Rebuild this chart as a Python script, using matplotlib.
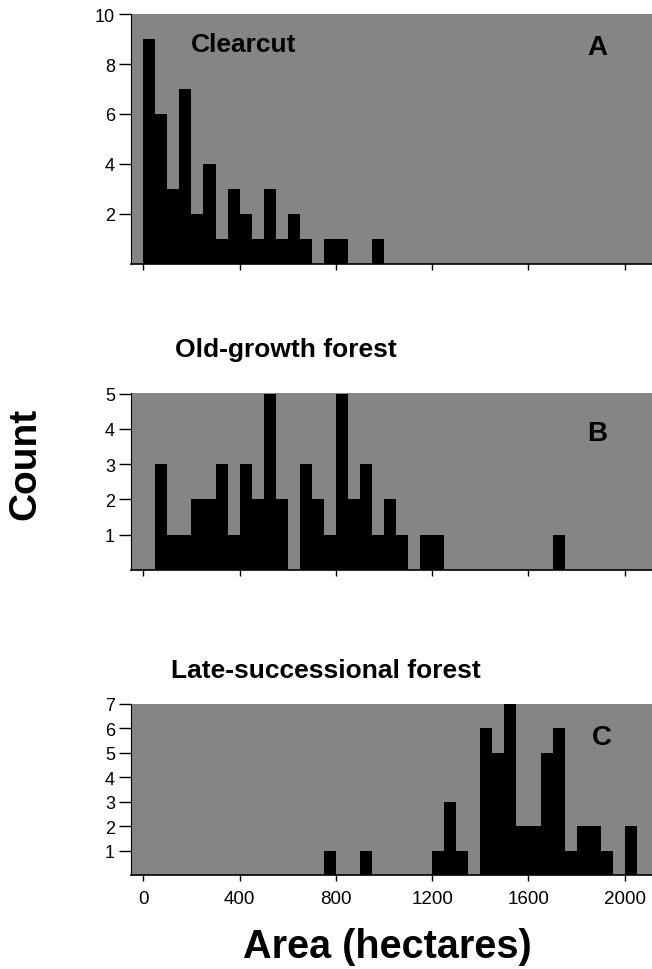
import numpy as np
import matplotlib
matplotlib.use("Agg")
import matplotlib.pyplot as plt

plt.rcParams['font.family'] = ['Liberation Sans', 'DejaVu Sans']

# bin width (hectares) shared by all three histograms
BIN = 50

# A: clearcut patches, bins from 0
clearcut_start = 0
clearcut_counts = [9, 6, 3, 7, 2, 4, 1, 3, 2, 1, 3, 1, 2, 1, 0, 1, 1, 0, 0, 1]

# B: old-growth forest patches, bins from 0
oldgrowth_start = 0
oldgrowth_counts = [0, 3, 1, 1, 2, 2, 3, 1, 3, 2, 5, 2, 0, 3, 2, 1, 5, 2, 3, 1,
                    2, 1, 0, 1, 1, 0, 0, 0, 0, 0, 0, 0, 0, 0, 1]

# C: late-successional forest patches, bins from 750
late_start = 750
late_counts = [1, 0, 0, 1, 0, 0, 0, 0, 0, 1, 3, 1, 0, 6, 5, 7, 2, 2, 5, 6,
               1, 2, 2, 1, 0, 2]

x_ticks = [0, 400, 800, 1200, 1600, 2000]
a_yticks = [2, 4, 6, 8, 10]
b_yticks = [1, 2, 3, 4, 5]
c_yticks = [1, 2, 3, 4, 5, 6, 7]

W, H = 652, 970
GRAY = "#858585"


def px_axes(left, top, right, bottom):
    return [left / W, 1 - bottom / H, (right - left) / W, (bottom - top) / H]


def draw_hist(ax, start, counts, ylim, yticks, show_xlabels):
    edges = start + BIN * np.arange(len(counts))
    ax.bar(edges, counts, width=BIN, align="edge", color="black", linewidth=0)
    ax.set_facecolor(GRAY)
    ax.set_xlim(-51, 2113)
    ax.set_ylim(0, ylim)
    ax.set_xticks(x_ticks)
    ax.set_yticks(yticks)
    ax.spines["top"].set_visible(False)
    ax.spines["right"].set_visible(False)
    ax.spines["left"].set_linewidth(0.8)
    ax.spines["bottom"].set_linewidth(1.2)
    ax.tick_params(axis="y", direction="out", length=8.5, width=1.0,
                   labelsize=13, pad=3)
    ax.tick_params(axis="x", direction="out", length=4.5, width=1.0,
                   labelsize=13.5, pad=6)
    if not show_xlabels:
        ax.set_xticklabels([])


fig = plt.figure(figsize=(W / 100, H / 100), dpi=100)

ax_a = fig.add_axes(px_axes(131, 15, 652, 265))
draw_hist(ax_a, clearcut_start, clearcut_counts, 10, a_yticks, False)

ax_b = fig.add_axes(px_axes(131, 394, 652, 571))
draw_hist(ax_b, oldgrowth_start, oldgrowth_counts, 5.02, b_yticks, False)

ax_c = fig.add_axes(px_axes(131, 705, 652, 876))
draw_hist(ax_c, late_start, late_counts, 7, c_yticks, True)


def ftext(x, y, s, **kw):
    fig.text(x / W, 1 - y / H, s, **kw)


ftext(191, 45, "Clearcut", fontsize=19, fontweight="bold", ha="left", va="center")
ftext(597, 48, "A", fontsize=20, fontweight="bold", ha="center", va="center")
ftext(175, 350, "Old-growth forest", fontsize=19, fontweight="bold", ha="left", va="center")
ftext(597, 434, "B", fontsize=20, fontweight="bold", ha="center", va="center")
ftext(171, 671, "Late-successional forest", fontsize=19, fontweight="bold",
      ha="left", va="center")
ftext(602, 738, "C", fontsize=20, fontweight="bold", ha="center", va="center")

ftext(25, 464, "Count", fontsize=28, fontweight="bold", rotation=90,
      ha="center", va="center")
ftext(387, 947, "Area (hectares)", fontsize=28.5, fontweight="bold",
      ha="center", va="center")

fig.savefig("out.png", dpi=100)
